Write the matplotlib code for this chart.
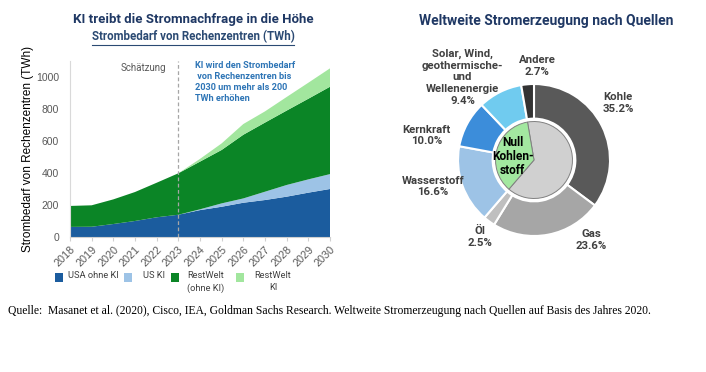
import numpy as np
import matplotlib
matplotlib.use("Agg")
import matplotlib.pyplot as plt
from matplotlib.patches import Rectangle

# Strombedarf von Rechenzentren (TWh)
years = [2018, 2019, 2020, 2021, 2022, 2023, 2024, 2025, 2026, 2027, 2028, 2029, 2030]
usa_ohne_ki = [65, 66, 83, 102, 125, 141, 170, 191, 216, 233, 254, 279, 302]
us_ki = [0, 0, 0, 0, 0, 0, 5, 21, 27, 52, 73, 83, 93]
restwelt_ohne_ki = [131, 134, 154, 181, 216, 259, 298, 334, 398, 432, 465, 504, 546]
restwelt_ki = [0, 0, 0, 0, 0, 0, 17, 41, 67, 70, 85, 100, 115]
series_labels = ["USA ohne KI", "US KI", "RestWelt\n(ohne KI)", "RestWelt\nKI"]
series_colors = ["#1B5C9E", "#9DC3E6", "#0B8526", "#A2E69E"]

# Weltweite Stromerzeugung nach Quellen (%)
sources = ["Kohle", "Gas", "Öl", "Wasserstoff", "Kernkraft",
           "Solar, Wind,\ngeothermische-\nund\nWellenenergie", "Andere"]
shares = [35.2, 23.6, 2.5, 16.6, 10.0, 9.4, 2.7]
source_colors = ["#595959", "#A6A6A6", "#BFBFBF", "#9DC3E6", "#3C8DDA", "#70CBEF", "#333333"]
null_kohlenstoff = ["Wasserstoff", "Kernkraft", "Solar, Wind,\ngeothermische-\nund\nWellenenergie"]

W, H = 706, 372
fig = plt.figure(figsize=(W / 100, H / 100), dpi=100)
fig.patch.set_facecolor("white")

title_col = "#1F3864"
grey_txt = "#595959"

# ---------- left: stacked area ----------
ax = fig.add_axes([70 / W, 1 - 237.3 / H, 260 / W, 176 / H])
ax.stackplot(years, usa_ohne_ki, us_ki, restwelt_ohne_ki, restwelt_ki,
             colors=series_colors, linewidth=0)
ax.set_xlim(2018, 2030)
ax.set_ylim(0, 1100)
ax.set_yticks(range(0, 1001, 200))
ax.set_xticks(years)
ax.set_xticklabels([str(y) for y in years], rotation=45, ha="right",
                   rotation_mode="anchor", fontsize=7.8, color=grey_txt,
                   family="Liberation Sans")
ax.tick_params(axis="y", length=0, labelsize=7.5, labelcolor=grey_txt, pad=8)
ax.tick_params(axis="x", length=3, color="#D0D0D0", pad=2)
for lab in ax.get_yticklabels():
    lab.set_family("Liberation Sans")
for s in ["top", "right"]:
    ax.spines[s].set_visible(False)
ax.spines["left"].set_color("#D9D9D9")
ax.spines["bottom"].set_color("#D0D0D0")
ax.axvline(2023, color="#A6A6A6", linestyle=(0, (3, 2)), linewidth=0.9)
ax.set_ylabel("Strombedarf von Rechenzentren (TWh)", fontsize=8.5,
              family="Liberation Sans")
ax.yaxis.set_label_coords(-0.138, 0.5)

ax.text(2021.4, 1058, "Schätzung", fontsize=7, color=grey_txt,
        ha="center", va="center", family="Roboto")
ax.text(2023.75, 1100, "KI wird den Strombedarf\n von Rechenzentren bis\n2030 um mehr als 200\nTWh erhöhen",
        fontsize=6.6, color="#2E75B6", fontweight="bold", ha="left", va="top",
        family="Roboto", linespacing=1.25)

fig.text(193 / W, 1 - 20 / H, "KI treibt die Stromnachfrage in die Höhe",
         ha="center", va="center", fontsize=9.5, fontweight="bold",
         color=title_col, family="Roboto")
sub = fig.text(193 / W, 1 - 37 / H, "Strombedarf von Rechenzentren (TWh)",
               ha="center", va="center", fontsize=8.3, fontweight="bold",
               color="#2B4A73", family="Roboto")
fig.canvas.draw()
bb = sub.get_window_extent()
fig.add_artist(plt.Line2D([bb.x0 / W, bb.x1 / W], [(bb.y0 - 1) / H, (bb.y0 - 1) / H],
                          color="#2B4A73", linewidth=0.8))

# legend (handles aligned with the first text line, as in the original)
box_x = [55, 124, 171, 236]
text_x = [68, 154, 206, 273]
text_ha = ["left", "center", "center", "center"]
for c, lab, bx, tx, ha in zip(series_colors, series_labels, box_x, text_x, text_ha):
    fig.add_artist(Rectangle((bx / W, 1 - 282 / H), 8 / W, 9 / H,
                             facecolor=c, edgecolor="none", transform=fig.transFigure))
    fig.text(tx / W, 1 - 271.5 / H, lab, ha=ha, va="top", fontsize=6.7,
             color="#404040", family="Roboto", multialignment="center",
             linespacing=1.4)

# ---------- right: donut ----------
cx, cy, R = 534, 160, 79
half = 95
ax2 = fig.add_axes([(cx - half) / W, (H - cy - half) / H, 2 * half / W, 2 * half / H])
ax2.set_xlim(-half / R, half / R)
ax2.set_ylim(-half / R, half / R)
ax2.set_aspect("equal")
ax2.axis("off")

ax2.pie(shares, colors=source_colors, startangle=90, counterclock=False,
        radius=1.0, wedgeprops=dict(width=1 - 43 / R, edgecolor="white", linewidth=1.5))

green = sum(v for s, v in zip(sources, shares) if s in null_kohlenstoff)
andere = shares[sources.index("Andere")]
ax2.pie([100 - green, green], colors=["#D0D0D0", "#A3E8A0"],
        startangle=90 + andere * 3.6, counterclock=False, radius=40 / R,
        wedgeprops=dict(edgecolor="#808080", linewidth=0.7))

label_pos = [(1.11, 0.75), (0.75, -1.05), (-0.71, -1.01), (-1.33, -0.35),
             (-1.41, 0.32), (-0.94, 1.09), (0.04, 1.24)]
for name, v, (lx, ly) in zip(sources, shares, label_pos):
    ax2.text(lx, ly, f"{name}\n{v:.1f}%", ha="center", va="center",
             fontsize=8.2, fontweight="bold", color="#404040",
             family="Roboto", linespacing=1.2)
ax2.text(-0.28, 0.05, "Null\nKohlen-\nstoff", ha="center", va="center",
         fontsize=8.6, fontweight="bold", color="black", family="Roboto",
         linespacing=1.1)

fig.text(546 / W, 1 - 21 / H, "Weltweite Stromerzeugung nach Quellen",
         ha="center", va="center", fontsize=10, fontweight="bold",
         color=title_col, family="Roboto")

fig.text(8 / W, 1 - 311 / H,
         "Quelle:  Masanet et al. (2020), Cisco, IEA, Goldman Sachs Research. "
         "Weltweite Stromerzeugung nach Quellen auf Basis des Jahres 2020.",
         ha="left", va="center", fontsize=8.4, family="Liberation Serif", color="black")

fig.savefig("out.png", dpi=100, facecolor="white")
